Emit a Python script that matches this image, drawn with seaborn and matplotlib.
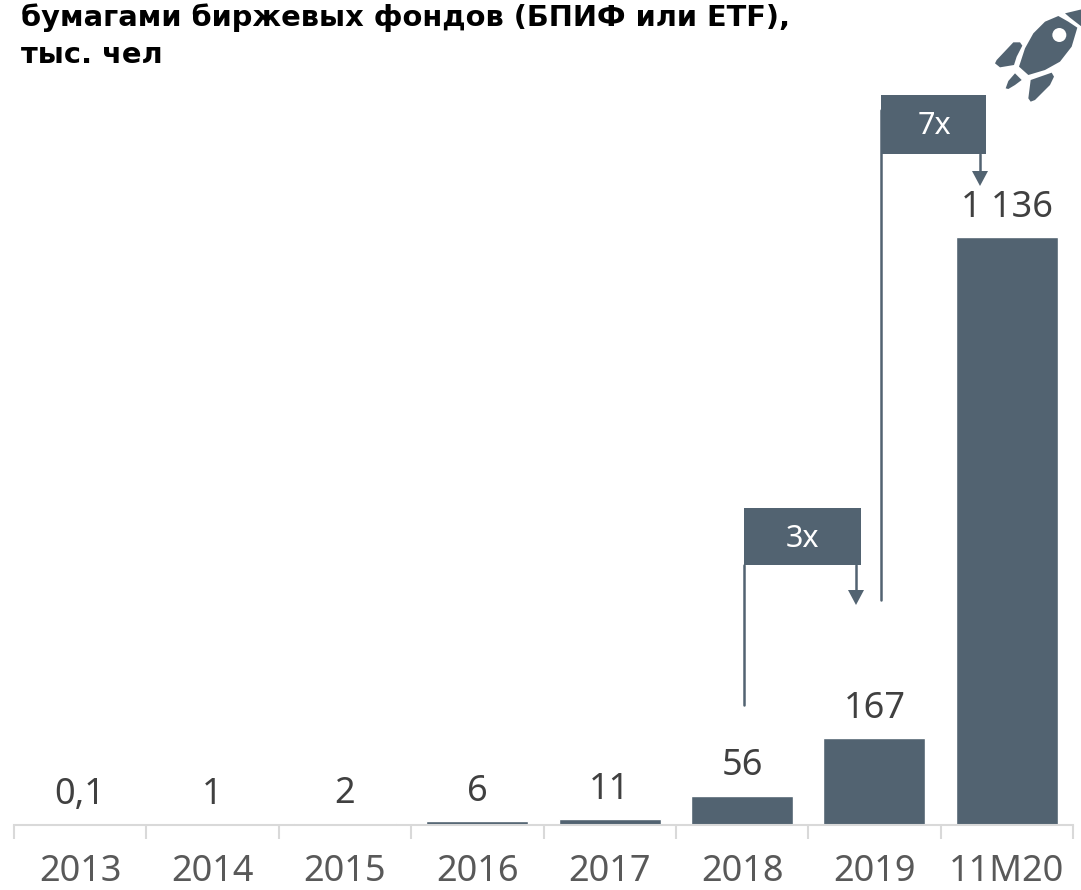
import numpy as np
import pandas as pd
import seaborn as sns
import matplotlib.pyplot as plt
from matplotlib.patches import Rectangle, Polygon, Ellipse

# Dados
anos = ['2013', '2014', '2015', '2016', '2017', '2018', '2019', '11M20']
valores = [0.1, 1, 2, 6, 11, 56, 167, 1136]
rotulos = ['0,1', '1', '2', '6', '11', '56', '167', '1 136']
titulo = ['бумагами биржевых фондов (БПИФ или ETF),', 'тыс. чел']

COR = '#526371'
W, H = 1081, 890

sns.set_style('white')
plt.rcParams['font.family'] = ['Noto Sans', 'DejaVu Sans']

df = pd.DataFrame({'ano': anos, 'valor': valores})

fig = plt.figure(figsize=(W / 100, H / 100), dpi=100)
ax = fig.add_axes([14 / W, (H - 824.5) / H, 1059 / W, 824.5 / H])
ax.patch.set_alpha(0)

sns.barplot(data=df, x='ano', y='valor', color=COR, saturation=1, width=0.77, ax=ax)

ax.set_xlim(-0.5, 7.5)
ax.set_ylim(0, 1594)
ax.set_xlabel('')
ax.set_ylabel('')
ax.set_yticks([])
sns.despine(ax=ax, left=True)
ax.spines['bottom'].set_color('#d9d9d9')
ax.spines['bottom'].set_linewidth(1.5)

# Marcas entre as categorias
ax.set_xticks(np.arange(-0.5, 8, 1), minor=True)
ax.tick_params(axis='x', which='minor', bottom=True, length=10, width=1.5, color='#d9d9d9')
ax.tick_params(axis='x', which='major', bottom=False, labelsize=26, labelcolor='#595959', pad=18)

ax.bar_label(ax.containers[0], labels=rotulos, fontsize=26, color='#404040', padding=8)


# Converte pixels da imagem para fração da figura
def px(x, y):
    return x / W, 1 - y / H


def retangulo(x0, y0, x1, y1):
    fig.add_artist(Rectangle(px(x0, y1), (x1 - x0) / W, (y1 - y0) / H, transform=fig.transFigure,
                             facecolor=COR, edgecolor='none', zorder=5))


def linha(x0, y0, x1, y1):
    fig.add_artist(plt.Line2D(*zip(px(x0, y0), px(x1, y1)), transform=fig.transFigure,
                              color=COR, lw=1.8, zorder=4))


def poligono(pontos, cor=COR):
    fig.add_artist(Polygon([px(*p) for p in pontos], closed=True, transform=fig.transFigure,
                           facecolor=cor, edgecolor='none', zorder=5))


def seta(x, y0, y1):
    linha(x, y0, x, y1 - 12)
    poligono([(x - 8, y1 - 15), (x + 8, y1 - 15), (x, y1)])


# Caixas de crescimento
retangulo(744, 508, 861, 565)
linha(744, 565, 744, 705)
seta(856, 565, 605)
fig.text(*px(802, 539), '3x', color='white', fontsize=22, ha='center', va='center', zorder=6)

retangulo(881, 95, 986, 154)
linha(881, 110, 881, 600)
seta(980, 154, 186)
fig.text(*px(934, 126), '7x', color='white', fontsize=22, ha='center', va='center', zorder=6)

# Foguete
z = lambda pts: [(990 + a / 3, 5 + b / 3) for a, b in pts]
poligono(z([(225, 25), (275, 13), (275, 65), (262, 55), (240, 38)]))
poligono(z([(205, 33), (165, 50), (130, 85), (105, 130), (87, 185), (115, 210), (165, 195),
            (210, 170), (245, 125), (262, 68), (235, 50)]))
poligono(z([(15, 175), (20, 165), (70, 112), (90, 112), (97, 122), (80, 155), (72, 180), (30, 187)]))
poligono(z([(47, 250), (55, 228), (75, 205), (95, 225), (75, 240), (55, 252)]))
poligono(z([(115, 280), (122, 225), (185, 203), (192, 215), (180, 240), (135, 285), (122, 290)]))
fig.add_artist(Ellipse(px(990 + 208 / 3, 5 + 90 / 3), 14 / W, 14 / H, transform=fig.transFigure,
                       facecolor='white', edgecolor='none', zorder=6))

# Título
fig.text(*px(21, 18), titulo[0], fontsize=20.8, fontweight='bold', color='black', va='center',
         family=['DejaVu Sans'])
fig.text(*px(21, 55), titulo[1], fontsize=20.8, fontweight='bold', color='black', va='center',
         family=['DejaVu Sans'])

fig.savefig('out.png', dpi=100)
